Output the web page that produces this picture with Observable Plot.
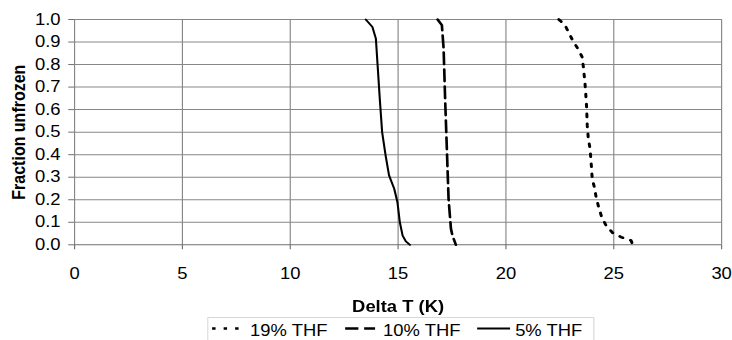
<!DOCTYPE html>
<html>
<head>
<meta charset="utf-8">
<script src="https://cdn.jsdelivr.net/npm/d3@7"></script>
<script src="https://cdn.jsdelivr.net/npm/@observablehq/plot@0.6"></script>
<style>
  body { margin: 0; background: #fff; }
  #wrap { position: relative; width: 636px; height: 340px; overflow: hidden;
          transform: scaleX(1.1509); transform-origin: 0 0;
          font-family: "Liberation Sans", Arial, sans-serif; }
  #legend { position: absolute; left: 179.9px; top: 317px; }
</style>
</head>
<body>
<div id="wrap"><div id="chart"></div></div>
<script>
// Series names (legend order)
const seriesNames = ["19% THF", "10% THF", "5% THF"];

// 19% THF (dotted)
const deltaT19 = [22.45, 22.55, 22.78, 23.09, 23.33, 23.53, 23.60, 23.68, 23.74, 23.77, 23.82, 23.90, 23.96, 24.00, 24.10, 24.18, 24.30, 24.44, 24.64, 24.95, 25.34, 25.80, 25.88];
const frac19   = [1.0, 0.992, 0.967, 0.908, 0.871, 0.834, 0.782, 0.70, 0.612, 0.53, 0.471, 0.427, 0.352, 0.293, 0.256, 0.212, 0.167, 0.123, 0.086, 0.053, 0.034, 0.019, 0.0];

// 10% THF (dashed)
const deltaT10 = [16.83, 17.03, 17.11, 17.18, 17.26, 17.34, 17.45, 17.52, 17.68];
const frac10   = [1.0, 0.975, 0.871, 0.649, 0.427, 0.204, 0.071, 0.041, 0.0];

// 5% THF (solid)
const deltaT5 = [13.50, 13.81, 13.97, 14.05, 14.15, 14.26, 14.42, 14.58, 14.82, 14.97, 15.08, 15.21, 15.36, 15.55];
const frac5   = [1.0, 0.967, 0.915, 0.797, 0.649, 0.50, 0.397, 0.308, 0.249, 0.189, 0.10, 0.041, 0.015, 0.0];

// Tick values
const xTicks = [0, 5, 10, 15, 20, 25, 30];
const yTicks = [0, 0.1, 0.2, 0.3, 0.4, 0.5, 0.6, 0.7, 0.8, 0.9, 1.0];

const xLabel = "Delta T (K)";
const yLabel = "Fraction unfrozen";

const toRows = (xs, ys) => xs.map((x, i) => ({x, y: ys[i]}));
const d19 = toRows(deltaT19, frac19);
const d10 = toRows(deltaT10, frac10);
const d5 = toRows(deltaT5, frac5);

const gridColor = "#878787";
const axisColor = "#6e6e6e";

const chart = Plot.plot({
  width: 636,
  height: 316,
  marginLeft: 64.3,
  marginRight: 9.5,
  marginTop: 19,
  marginBottom: 71.7,
  style: {fontFamily: '"Liberation Sans", Arial, sans-serif', fontSize: "16px", color: "#000", background: "#fff", overflow: "visible"},
  x: {domain: [0, 30]},
  y: {domain: [0, 1]},
  marks: [
    Plot.gridY(yTicks.slice(1), {stroke: gridColor, strokeOpacity: 1}),
    Plot.gridX(xTicks.slice(1), {stroke: gridColor, strokeOpacity: 1}),
    Plot.ruleX([0], {stroke: gridColor}),
    Plot.ruleY([0], {stroke: axisColor}),
    Plot.axisY({ticks: yTicks, tickFormat: d3.format(".1f"), tickSize: 5, tickPadding: 7.2, label: null, stroke: axisColor, fill: "#000", fontSize: 16}),
    Plot.axisX({ticks: xTicks, tickFormat: d3.format("d"), tickSize: 5, tickPadding: 17.7, label: null, stroke: axisColor, fill: "#000", fontSize: 16}),
    Plot.line(d19, {x: "x", y: "y", stroke: "#000", strokeWidth: 2.6, strokeDasharray: "3,7"}),
    Plot.line(d10, {x: "x", y: "y", stroke: "#000", strokeWidth: 2.3, strokeDasharray: "12,5"}),
    Plot.line(d5, {x: "x", y: "y", stroke: "#000", strokeWidth: 1.8}),
    Plot.text([xLabel], {frameAnchor: "bottom", lineAnchor: "top", textAnchor: "middle", dy: 56, fontWeight: "bold", fontSize: 16, fill: "#000"}),
    Plot.text([yLabel], {frameAnchor: "left", textAnchor: "middle", lineAnchor: "middle", rotate: -90, dx: -47.8, fontWeight: "bold", fontSize: 16, fill: "#000"})
  ]
});
document.getElementById("chart").appendChild(chart);

// Legend
const legendItems = [
  {name: seriesNames[0], x1: 4.3, x2: 30.4, tx: 37.3, dash: "3,7", w: 2.6},
  {name: seriesNames[1], x1: 119.9, x2: 145.9, tx: 152.9, dash: "11.5,5", w: 2.3},
  {name: seriesNames[2], x1: 234.6, x2: 263.2, tx: 267.6, dash: null, w: 1.8}
];
const leg = d3.select("#wrap").append("svg")
  .attr("id", "legend").attr("width", 337).attr("height", 23);
leg.append("rect").attr("x", 0.5).attr("y", 0.5).attr("width", 335.5).attr("height", 40)
  .attr("fill", "#fff").attr("stroke", "#d8d8d8");
legendItems.forEach(it => {
  const ln = leg.append("line").attr("x1", it.x1).attr("x2", it.x2).attr("y1", 11.5).attr("y2", 11.5)
    .attr("stroke", "#000").attr("stroke-width", it.w);
  if (it.dash) ln.attr("stroke-dasharray", it.dash);
  leg.append("text").attr("x", it.tx).attr("y", 19.5).text(it.name)
    .attr("font-family", '"Liberation Sans", Arial, sans-serif').attr("font-size", 16).attr("fill", "#000");
});
</script>
</body>
</html>
